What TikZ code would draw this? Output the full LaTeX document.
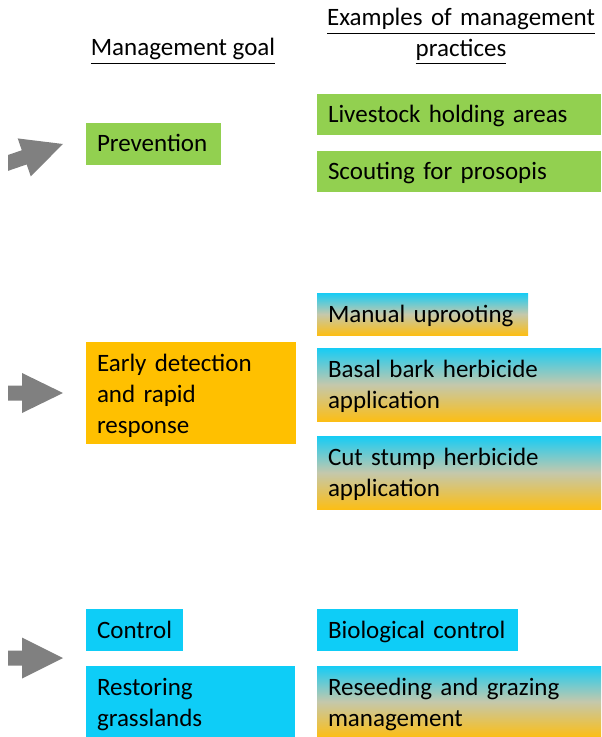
\documentclass[tikz,border=0pt]{standalone}
\usepackage{fontspec}
\setmainfont{Carlito}
\definecolor{cgreen}{RGB}{146,208,80}
\definecolor{corange}{RGB}{255,192,0}
\definecolor{ccyan}{RGB}{14,205,247}
\definecolor{gtop}{RGB}{22,204,245}
\definecolor{gmid}{RGB}{196,200,172}
\definecolor{gbot}{RGB}{252,190,22}
\definecolor{arrowgray}{RGB}{128,128,128}
\begin{document}
\begin{tikzpicture}[x=0.5pt,y=-0.5pt,
  txt/.style={font=\fontsize{12.5}{15.5}\selectfont},
  gbox/.style={txt, anchor=north west, inner xsep=5.5pt, inner ysep=0pt,
    outer sep=0pt, align=left, text height=14.5pt},
  greenbox/.style={gbox, fill=cgreen},
  orangebox/.style={gbox, fill=corange},
  cyanbox/.style={gbox, fill=ccyan},
  gradbox/.style={gbox, top color=gtop, bottom color=gbot, middle color=gmid},
  header/.style={txt, align=center, anchor=base, inner sep=0pt},
  blockarrow/.style={fill=arrowgray}
]
\useasboundingbox (0,0) rectangle (601,737);

% headers
\node[header] (hgoal) at (183,56) {\underline{Management goal}};
\node[header, text width=140pt] (hpract) at (461,26)
  {\underline{Examples of management}\\\underline{practices}};

% management goals
\node[greenbox, text width=56.5pt, text depth=6.5pt] (prev) at (86,123) {Prevention};
\node[orangebox, text width=94pt, text depth=36.5pt] (early) at (86,342)
  {Early detection\\and rapid\\response};
\node[cyanbox, text width=37.5pt, text depth=6.5pt] (control) at (86,609) {Control};
\node[cyanbox, text width=93.5pt, text depth=21pt] (restore) at (86,666)
  {Restoring\\grasslands};

% practices
\node[greenbox, text width=131pt, text depth=6pt] (live) at (317,94) {Livestock holding areas};
\node[greenbox, text width=131pt, text depth=6pt] (scout) at (317,151) {Scouting for prosopis};
\node[gradbox, text width=94.5pt, text depth=6.5pt] (manual) at (317,293) {Manual uprooting};
\node[gradbox, text width=131pt, text depth=22pt] (basal) at (317,348)
  {Basal bark herbicide\\application};
\node[gradbox, text width=131pt, text depth=22pt] (cut) at (317,436)
  {Cut stump herbicide\\application};
\node[cyanbox, text width=89.5pt, text depth=6.5pt] (bio) at (317,609) {Biological control};
\node[gradbox, text width=131pt, text depth=21pt] (reseed) at (317,666)
  {Reseeding and grazing\\management};

% block arrows
\begin{scope}
  \clip (8,0) rectangle (601,737);
  \fill[blockarrow, shift={(63,144)}, rotate=19]
    (-75,-7.5) -- (-41,-7.5) -- (-41,-20) -- (0,0) -- (-41,20) -- (-41,7.5) -- (-75,7.5) -- cycle;
\end{scope}
\fill[blockarrow, shift={(63,393)}]
  (-55,-7.5) -- (-41,-7.5) -- (-41,-20) -- (0,0) -- (-41,20) -- (-41,7.5) -- (-55,7.5) -- cycle;
\fill[blockarrow, shift={(63,658)}]
  (-55,-7.5) -- (-41,-7.5) -- (-41,-20.5) -- (0,0) -- (-41,20.5) -- (-41,7.5) -- (-55,7.5) -- cycle;
\end{tikzpicture}
\end{document}
